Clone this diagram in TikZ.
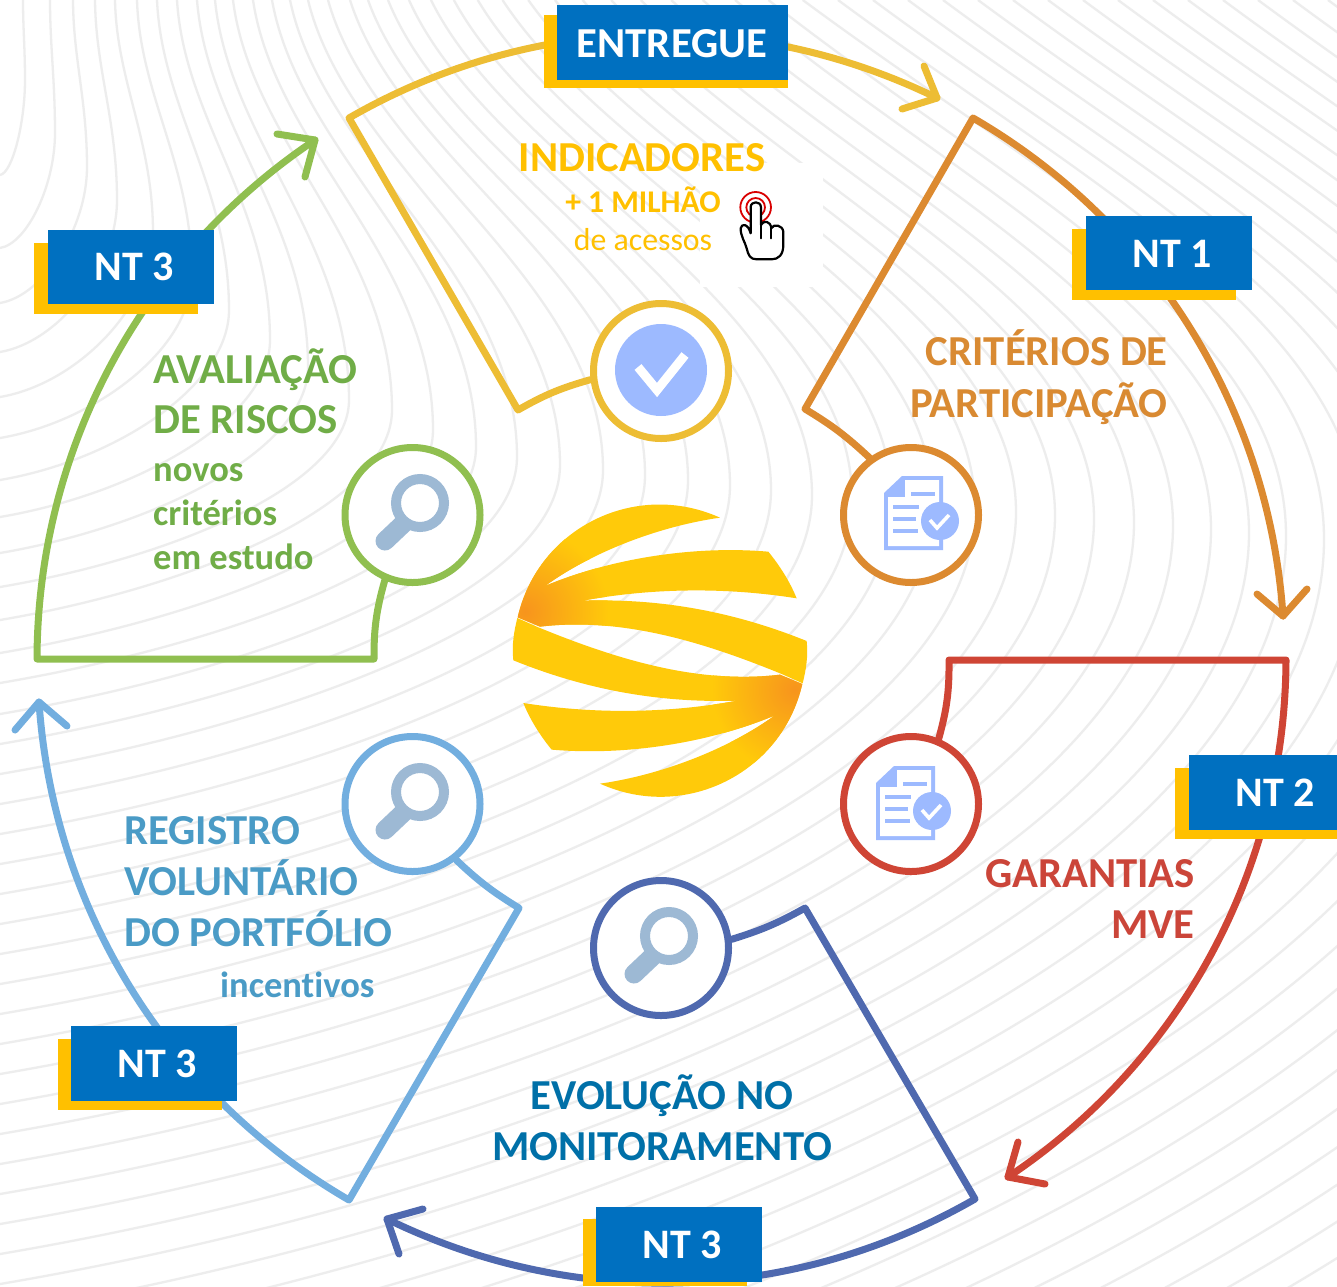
\documentclass[tikz,border=0pt]{standalone}
\usepackage{fontspec}
\setmainfont[Ligatures=NoCommon]{Carlito}
\usetikzlibrary{calc}
\definecolor{cbg}{HTML}{EDEDED}
\definecolor{cyel}{HTML}{EDBD34}
\definecolor{cora}{HTML}{DC8A30}
\definecolor{cred}{HTML}{CF4535}
\definecolor{cnav}{HTML}{4F69AF}
\definecolor{csky}{HTML}{72AEDF}
\definecolor{cgrn}{HTML}{90BF50}
\definecolor{ticon}{HTML}{9DBAFF}
\definecolor{tmag}{HTML}{9DB9D4}
\definecolor{tblue}{HTML}{0070C0}
\definecolor{tgold}{HTML}{FFC000}
\definecolor{tyel}{HTML}{FFC000}
\definecolor{tora}{HTML}{D98A32}
\definecolor{tred}{HTML}{CB4539}
\definecolor{tnav}{HTML}{0070A8}
\definecolor{tsky}{HTML}{4A9BC6}
\definecolor{tgrn}{HTML}{70AD47}
\definecolor{globeA}{HTML}{FFCA0A}
\definecolor{globeB}{HTML}{F7941D}
\newcommand\tsize[1]{\fontsize{#1}{#1}\selectfont}
\newcommand\gpiece{(690,113) .. controls (500,140) and (300,220) .. (165,318)
 .. controls (350,240) and (600,195) .. (835,215)
 .. controls (868,255) and (900,305) .. (920,355)
 .. controls (700,320) and (480,325) .. (278,362)
 .. controls (500,355) and (720,390) .. (950,483)
 .. controls (955,530) and (948,570) .. (938,610)
 -- (875,582)
 .. controls (650,490) and (400,410) .. (150,440)
 -- (83,412)
 .. controls (145,142) and (438,-1) .. (690,113) -- cycle}
\newcommand\docicon[2]{\begin{scope}[shift={(#1,#2)}]
 \fill[ticon] (18,0) -- (59,0) -- (59,74) -- (0,74) -- (0,17) -- cycle;
 \fill[white] (4,21) -- (21,21) -- (21,4) -- (55,4) -- (55,70) -- (4,70) -- cycle;
 \draw[ticon,line width=4pt] (27,18) -- (51,18) (9,31) -- (35,31) (9,43) -- (32,43) (9,55) -- (34,55);
 \fill[ticon] (56,45) circle (19);
 \draw[white,line width=3.6pt] (46,44) -- (53,52) -- (65,39);
\end{scope}}
\newcommand\magicon[2]{\begin{scope}[shift={(#1,#2)}]
 \draw[tmag,line width=19pt,line cap=round] (-35,38) -- (-16,20);
 \draw[tmag,line width=10pt,fill=white] (0,0) circle (24);
\end{scope}}
\tikzset{
 ring/.style={circle,draw=#1,fill=white,line width=7pt,minimum size=135pt,inner sep=0pt},
 lane/.style={draw=#1,line width=7pt,line cap=round,line join=round},
 archead/.style={bend left=28,looseness=.91},
 tag/.style={text=white,font=\bfseries\tsize{42},inner sep=0pt,anchor=base},
 capt/.style={text=#1,font=\bfseries\tsize{42.7},inner sep=0pt,yshift=-1pt},
 sub/.style={text=#1,font=\bfseries\tsize{36.5},inner sep=0pt,yshift=-1pt},
}
\begin{document}
\begin{tikzpicture}[x=1pt,y=-1pt]
\useasboundingbox (0,0) rectangle (1337,1286);
\fill[white] (0,0) rectangle (1337,1286);
% background lines
\begin{scope}
\clip (0,0) rectangle (1337,1286);
\foreach \i in {0,...,58}{
 \pgfmathsetmacro{\xn}{\i<34 ? {25,55,87,117,153,192,229,270,308,349,392,433,476,517,560,603,645,688,730,771,812,852,892,933,975,1016,1055,1094,1134,1173,1211,1249,1286,1324}[min(\i,33)] : 1324+38*(\i-33)}
 \pgfmathsetmacro{\yn}{\i<14 ? {80,133,167,200,233,275,310,340,367,400,410,430,447,457}[min(\i,13)] : (\i<20 ? 465+5*(\i-14) : 495+3.4*(\i-20))}
 \pgfmathsetmacro{\tx}{\i<19 ? {23,50,73,95,115,137,157,177,197,215,233,253,272,290,308,328,350,368,388}[min(\i,18)] : (\i<34 ? 388+21*(\i-18)+0.475*(\i-18)*(\i-19) : 803+35*(\i-33))}
 \pgfmathsetmacro{\lf}{\i<13 ? {175,248,303,352,397,438,480,517,553,587,620,653,683}[min(\i,12)] : 714+30*(\i-13)}
 \pgfmathsetmacro{\sl}{1.35*min(\i,33)*min(\i,33)/1089}
 \draw[cbg,line width=2.3pt] (\tx,0)
   .. controls ({\tx+\sl*0.35*\yn},{0.35*\yn}) and (\xn,{0.6*\yn}) .. (\xn,\yn)
   .. controls (\xn,{\yn+0.45*(\lf-\yn)}) and ({0.5*\xn},{\lf-0.085*\xn}) .. (0,\lf);
}
\fill[white] (700,163) rectangle (823,287);
\end{scope}
% globe
\begin{scope}[shift={(490,480)},x=.3333pt,y=-.3333pt]
 \foreach \rot in {0,180}{
 \begin{scope}[rotate around={\rot:(510,512)}]
  \fill[globeA] \gpiece;
  \begin{scope}
   \clip \gpiece;
   \shade[inner color=globeB,outer color=globeA] (105,395) circle (250);
  \end{scope}
 \end{scope}}
\end{scope}
% circles
\node[ring=cyel] (cy) at (661,371) {};
\node[ring=cora] (co) at (911,515) {};
\node[ring=cred] (cr) at (911,804) {};
\node[ring=cnav] (cn) at (661,948) {};
\node[ring=csky] (cs) at (412.5,804) {};
\node[ring=cgrn] (cg) at (412.5,515) {};
% icons
\fill[ticon] (661,370) circle (46);
\draw[white,line width=9pt] (638,367) -- (657,390) -- (685,355);
\docicon{884}{476}
\docicon{876}{766}
\magicon{420}{503}
\magicon{420}{792}
\magicon{669}{936}
% yellow
\coordinate (y1) at (518,410); \coordinate (y2) at (349,118); \coordinate (y3) at (937,98);
\coordinate (yh1) at (924,66); \coordinate (yh2) at (902,109);
\draw[lane=cyel] (cy.187) to[bend right=7] (y1) -- (y2) to[archead] (y3);
\draw[lane=cyel] (yh1) -- (y3) -- (yh2);
% orange
\coordinate (o1) at (805,409); \coordinate (o2) at (973,118); \coordinate (o3) at (1283,616);
\coordinate (oh1) at (1257,594); \coordinate (oh2) at (1307,589);
\draw[lane=cora] (co.126) to[bend right=6] (o1) -- (o2) to[archead] (o3);
\draw[lane=cora] (oh1) -- (o3) -- (oh2);
% red
\coordinate (r1) at (949,660); \coordinate (r2) at (1286,660); \coordinate (r3) at (1008,1177);
\coordinate (rh1) at (1018,1142); \coordinate (rh2) at (1045,1184);
\draw[lane=cred] (cr.67) to[bend right=8] (r1) -- (r2) to[archead] (r3);
\draw[lane=cred] (rh1) -- (r3) -- (rh2);
% navy
\coordinate (n1) at (805,908); \coordinate (n2) at (975,1199); \coordinate (n3) at (387,1219);
\coordinate (nh1) at (423,1209); \coordinate (nh2) at (399,1254);
\draw[lane=cnav] (cn.7) to[bend right=6] (n1) -- (n2) to[archead] (n3);
\draw[lane=cnav] (nh1) -- (n3) -- (nh2);
% sky
\coordinate (s1) at (519,908); \coordinate (s2) at (349,1200); \coordinate (s3) at (39,702);
\coordinate (sh1) at (15,730); \coordinate (sh2) at (67,726);
\draw[lane=csky] (cs.-52) to[bend right=6] (s1) -- (s2) to[archead] (s3);
\draw[lane=csky] (sh1) -- (s3) -- (sh2);
% green
\coordinate (g1) at (374,659); \coordinate (g2) at (37,659); \coordinate (g3) at (315,140);
\coordinate (gh1) at (277,134); \coordinate (gh2) at (305,177);
\draw[lane=cgrn] (cg.247) to[bend right=8] (g1) -- (g2) to[archead] (g3);
\draw[lane=cgrn] (gh1) -- (g3) -- (gh2);
% tags
\fill[tgold] (544,15) rectangle (788,88);  \fill[tblue] (557,5) rectangle (788,80);
\node[tag,font=\bfseries\tsize{42.7}] (tE) at (672,57) {ENTREGUE};
\fill[tgold] (1072,229) rectangle (1236,300); \fill[tblue] (1086,216) rectangle (1252,290);
\node[tag] (t1) at (1172,267) {NT 1};
\fill[tgold] (1175,768) rectangle (1337,839); \fill[tblue] (1189,755) rectangle (1337,830);
\node[tag] (t2) at (1275,806) {NT 2};
\fill[tgold] (34,243) rectangle (198,314); \fill[tblue] (48,230) rectangle (214,304);
\node[tag] (t3a) at (134,280) {NT 3};
\fill[tgold] (58,1039) rectangle (222,1110); \fill[tblue] (71,1026) rectangle (237,1101);
\node[tag] (t3b) at (157.5,1077) {NT 3};
\fill[tgold] (583,1219) rectangle (747,1286); \fill[tblue] (596,1207) rectangle (762,1282);
\node[tag] (t3c) at (682,1258) {NT 3};
% captions
\node[capt=tyel,anchor=base] (a1) at (642,170) {INDICADORES};
\node[text=tyel,font=\bfseries\tsize{31.6},inner sep=0,anchor=base] (a2) at (643,212) {+ 1 MILHÃO};
\node[text=tyel,font=\tsize{31.8},inner sep=0,anchor=base] (a3) at (643,250) {de acessos};
\node[capt=tora,anchor=base east] (b1) at (1168,364) {CRITÉRIOS DE};
\node[capt=tora,anchor=base east] (b2) at (1168,416) {PARTICIPAÇÃO};
\node[capt=tred,anchor=base east] (c1) at (1195,886) {GARANTIAS};
\node[capt=tred,anchor=base east] (c2) at (1195,937.5) {MVE};
\node[capt=tnav,anchor=base] (d1) at (662,1108) {EVOLUÇÃO NO};
\node[capt=tnav,anchor=base] (d2) at (662,1159) {MONITORAMENTO};
\node[capt=tsky,anchor=base west] (e1) at (124,843) {REGISTRO};
\node[capt=tsky,anchor=base west] (e2) at (124,894) {VOLUNTÁRIO};
\node[capt=tsky,anchor=base west] (e3) at (124,945) {DO PORTFÓLIO};
\node[sub=tsky,anchor=base west] (e4) at (220,996) {incentivos};
\node[capt=tgrn,anchor=base west] (f1) at (153,382) {AVALIAÇÃO};
\node[capt=tgrn,anchor=base west] (f2) at (153,432) {DE RISCOS};
\node[sub=tgrn,anchor=base west] (f3) at (153,480) {novos};
\node[sub=tgrn,anchor=base west] (f4) at (153,524) {critérios};
\node[sub=tgrn,anchor=base west] (f5) at (153,568) {em estudo};
% hand cursor
\begin{scope}[shift={(500,130)},x=.3333pt,y=-.3333pt]
 \draw[red!85!black,line width=1.8pt] (767,232) circle (46);
 \draw[red!85!black,line width=1.8pt] (767,232) circle (28);
 \draw[black,fill=white,line width=2.2pt,line join=round]
  (770,388) .. controls (750,388) and (745,375) .. (740,355)
  .. controls (735,335) and (722,320) .. (722,295)
  .. controls (725,278) and (745,282) .. (752,310)
  -- (752,232) .. controls (752,212) and (783,212) .. (783,232)
  -- (783,285) .. controls (790,270) and (812,272) .. (814,295)
  .. controls (820,280) and (848,285) .. (850,305)
  -- (850,345) .. controls (850,375) and (835,388) .. (815,388) -- cycle;
 \draw[black,line width=2.2pt,line cap=round] (783,285) -- (783,325) (814,295) -- (814,325);
\end{scope}
\end{tikzpicture}
\end{document}
